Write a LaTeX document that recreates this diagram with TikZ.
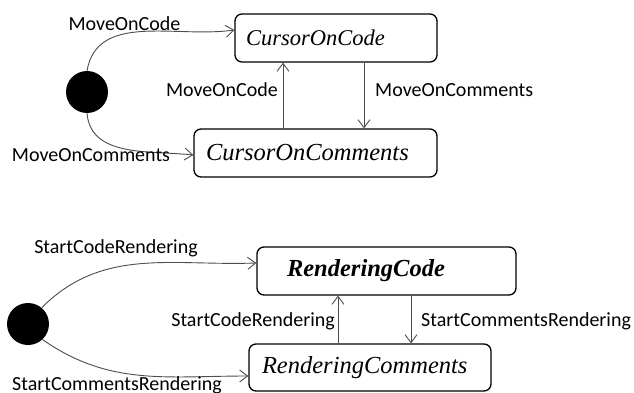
\documentclass[tikz,border=0pt]{standalone}
\usepackage{fontspec}
\setmainfont{Liberation Serif}
\newfontfamily\eventfont{Carlito}
\usetikzlibrary{arrows.meta}
\tikzset{>={Straight Barb[length=8pt,width=12pt]}}
\tikzset{%
  state/.style={draw=black, line width=1.3pt, rounded corners=7pt, minimum height=48pt, align=left, font=\itshape\fontsize{22.5}{24}\selectfont},
  init/.style={circle, fill=black, minimum size=42pt, inner sep=0pt},
  event/.style={font=\eventfont\fontsize{20}{22}\selectfont, inner sep=0pt},
  trans/.style={->, draw=black!70, line width=0.9pt}
}

\begin{document}
\begin{tikzpicture}[x=1pt,y=1pt]

  \useasboundingbox (0,0) rectangle (634,392);

  % upper machine: where the cursor is
  \node[init] (start1) at (87,300) {};
  \node[state, text width=180pt, inner xsep=11pt] (code) at (336,354) {CursorOnCode};
  \node[state, text width=219pt, inner xsep=12pt, font=\itshape\fontsize{24.5}{26}\selectfont] (cmt) at (315.5,239) {CursorOnComments};

  % x positions of the vertical transitions
  \coordinate (up1) at (283,0);
  \coordinate (down1) at (364,0);

  \draw[trans] (start1.north) to[out=80, in=188] ([yshift=8pt]code.west);
  \draw[trans] (start1.south) to[out=-85, in=174] ([yshift=-2pt]cmt.west);
  \draw[trans] (cmt.north -| up1) -- (code.south -| up1);
  \draw[trans] (code.south -| down1) -- (cmt.north -| down1);

  \node[event] (evtop1) at (124.5,368) {MoveOnCode};
  \node[event] (evbot1) at (91,237) {MoveOnComments};
  \node[event, anchor=east] (evup1) at (278,302) {MoveOnCode};
  \node[event, anchor=west] (evdown1) at (375,302) {MoveOnComments};

  % lower machine: what is being rendered
  \node[init] (start2) at (28,68) {};
  \node[state, text width=199pt, inner xsep=30pt, font=\bfseries\itshape\fontsize{24.5}{26}\selectfont] (rcode) at (386.5,121) {RenderingCode};
  \node[state, text width=216pt, inner xsep=13pt, minimum height=47pt, font=\itshape\fontsize{24.5}{26}\selectfont] (rcmt) at (370,24.5) {RenderingComments};

  \coordinate (up2) at (338,0);
  \coordinate (down2) at (411,0);

  \draw[trans] (start2.50) to[out=45, in=182] ([yshift=8pt]rcode.west);
  \draw[trans] (start2.-47) to[out=-35, in=180] ([yshift=-8.5pt]rcmt.west);
  \draw[trans] (rcmt.north -| up2) -- (rcode.south -| up2);
  \draw[trans] (rcode.south -| down2) -- (rcmt.north -| down2);

  \node[event] (evtop2) at (116,144) {StartCodeRendering};
  \node[event] (evbot2) at (117,7) {StartCommentsRendering};
  \node[event, anchor=east] (evup2) at (335,71) {StartCodeRendering};
  \node[event, anchor=west] (evdown2) at (421,71) {StartCommentsRendering};

\end{tikzpicture}
\end{document}
